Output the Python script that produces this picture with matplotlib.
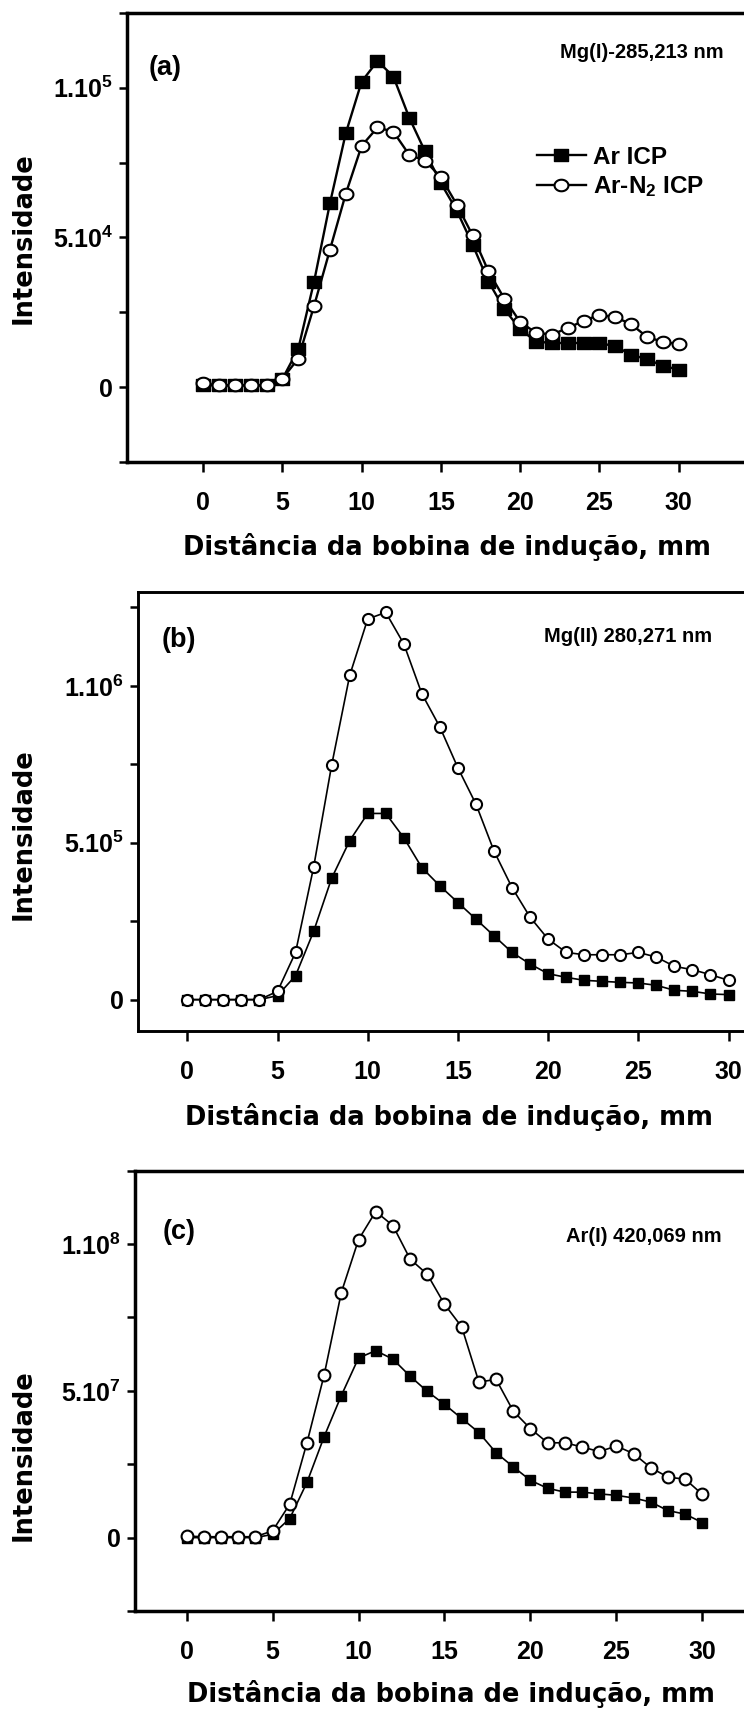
import numpy as np
import matplotlib
matplotlib.use('Agg')
import matplotlib.pyplot as plt
from matplotlib.path import Path
from matplotlib.ticker import MultipleLocator, FuncFormatter

# distance from the induction coil, mm
dist = np.arange(0, 31)

# (a) Mg(I) 285,213 nm
mg1_ar = [700, 700, 700, 700, 700, 2800, 12800, 35300, 61400, 84800, 102000,
          108900, 103700, 90000, 78700, 68100, 59000, 47600, 35300, 26100, 19400,
          15300, 14800, 14800, 14800, 14800, 13700, 10900, 9400, 7200, 5900]
mg1_arn2 = [1300, 700, 700, 700, 700, 2900, 9600, 27200, 45900, 64600, 80600,
            86700, 85300, 77600, 75600, 70100, 61000, 50700, 38700, 29600, 21800,
            18200, 17600, 19800, 22200, 24200, 23400, 21100, 16800, 15200, 14400]

# (b) Mg(II) 280,271 nm
mg2_ar = [0, 0, 0, 0, 0, 12700, 76300, 217200, 386700, 506500, 593300,
          593300, 516000, 420600, 362400, 309400, 256400, 203400, 150500, 113400, 82600,
          71000, 61500, 58300, 55100, 53000, 45600, 29700, 26500, 18000, 15900]
mg2_arn2 = [0, 0, 0, 0, 0, 26500, 150500, 421700, 747000, 1033000, 1213000,
            1234000, 1133700, 974800, 868800, 738500, 623000, 473600, 357000, 262800, 192800,
            150500, 143000, 143000, 143000, 150500, 135600, 106000, 95400, 79500, 61500]

# (c) Ar(I) 420,069 nm
ar1_ar = [0, 0, 0, 0, 0, 1.1e6, 6.5e6, 18.8e6, 34.4e6, 48.4e6, 61.2e6,
          63.7e6, 60.8e6, 55.0e6, 49.8e6, 45.4e6, 40.6e6, 35.8e6, 28.9e6, 24.1e6, 19.5e6,
          16.8e6, 15.5e6, 15.5e6, 14.9e6, 14.4e6, 13.5e6, 12.1e6, 9.2e6, 8.0e6, 5.1e6]
ar1_arn2 = [0.5e6, 0.3e6, 0.3e6, 0.3e6, 0.3e6, 2.3e6, 11.4e6, 32.3e6, 55.4e6, 83.5e6, 101.5e6,
            111.1e6, 106.3e6, 94.9e6, 89.7e6, 79.5e6, 71.8e6, 53.0e6, 53.9e6, 43.1e6, 37.1e6,
            32.3e6, 32.3e6, 30.9e6, 29.3e6, 31.2e6, 28.6e6, 23.8e6, 20.6e6, 19.9e6, 14.7e6]

series_labels = ['Ar ICP', 'Ar-N$_{2}$ ICP']
panel_tags = ['(a)', '(b)', '(c)']
lines_nm = ['Mg(I)-285,213 nm', 'Mg(II) 280,271 nm', 'Ar(I) 420,069 nm']
xlabel = 'Distância da bobina de indução, mm'
ylabel = 'Intensidade'

plt.rcParams['font.family'] = 'Liberation Sans'
plt.rcParams['font.weight'] = 'bold'
plt.rcParams['mathtext.fontset'] = 'custom'
plt.rcParams['mathtext.rm'] = 'Liberation Sans:bold'
plt.rcParams['mathtext.bf'] = 'Liberation Sans:bold'
plt.rcParams['mathtext.it'] = 'Liberation Sans:bold'
plt.rcParams['mathtext.default'] = 'rm'

ann_font = dict(family='Liberation Sans', size=14.5, weight='bold')
leg_font = dict(family='Liberation Sans', size=17.5, weight='bold')

W, H = 744, 1710
fig = plt.figure(figsize=(W / 100, H / 100), dpi=100)

def px_axes(left, top, right, bottom):
    return fig.add_axes([left / W, 1 - bottom / H, (right - left) / W, (bottom - top) / H])

def sci(v, pos):
    if abs(v) < 1e-9:
        return '0'
    e = int(np.floor(np.log10(v)))
    return r'$%d.10^{%d}$' % (round(v / 10 ** e), e)

# ellipse / flat square markers for panel (a)
t = np.linspace(0, 2 * np.pi, 60)
oval = Path(np.c_[1.2 * np.cos(t), np.sin(t)], closed=True)
flat_sq = Path([(-1.2, -1), (1.2, -1), (1.2, 1), (-1.2, 1), (-1.2, -1)], closed=True)

panels = [
    dict(box=(127, 12.7, 758, 462.3), xlim=(-4.8, 35), ylim=(-2.5e4, 1.25e5), step=2.5e4,
         ar=mg1_ar, arn2=mg1_arn2, lw=1.7, ms=(10, 10), mk=(flat_sq, oval), spw=2.5,
         tag=(165, 68), ann=(724, 52), ylab_y=238, xlab=(447, 547)),
    dict(box=(137.7, 591.7, 764.6, 1031), xlim=(-2.75, 32), ylim=(-1e5, 1.3e6), step=2.5e5,
         ar=mg2_ar, arn2=mg2_arn2, lw=1.2, ms=(7, 8), mk=('s', 'o'), spw=2.1,
         tag=(179, 640), ann=(712, 636), ylab_y=834, xlab=(449, 1117)),
    dict(box=(135, 1170.7, 754, 1611), xlim=(-3, 33), ylim=(-2.5e7, 1.25e8), step=2.5e7,
         ar=ar1_ar, arn2=ar1_arn2, lw=1.2, ms=(7.5, 8.5), mk=('s', 'o'), spw=2.5,
         tag=(179, 1232), ann=(722, 1237), ylab_y=1455, xlab=(451, 1694)),
]

for i, p in enumerate(panels):
    ax = px_axes(*p['box'])
    ax.plot(dist, p['ar'], color='black', lw=p['lw'], marker=p['mk'][0], ms=p['ms'][0],
            mfc='black', mec='black', mew=1.0, label=series_labels[0], zorder=3)
    ax.plot(dist, p['arn2'], color='black', lw=p['lw'], marker=p['mk'][1], ms=p['ms'][1],
            mfc='white', mec='black', mew=1.5, label=series_labels[1], zorder=4)
    ax.set_xlim(*p['xlim'])
    ax.set_ylim(*p['ylim'])
    ax.set_xticks(np.arange(0, 31, 5))
    ax.yaxis.set_minor_locator(MultipleLocator(p['step']))
    ax.set_yticks([0, p['step'] * 2, p['step'] * 4])
    ax.yaxis.set_major_formatter(FuncFormatter(sci))
    ax.tick_params(axis='x', direction='out', length=7, width=1.8, pad=14, labelsize=18)
    ax.tick_params(axis='y', which='both', direction='out', length=6, width=1.8, pad=4,
                   labelsize=18)
    for s in ax.spines.values():
        s.set_linewidth(p['spw'])
    for lab in ax.get_xticklabels() + ax.get_yticklabels():
        lab.set_fontweight('bold')

    fig.text(p['tag'][0] / W, 1 - p['tag'][1] / H, panel_tags[i], ha='center', va='center',
             fontsize=19.5, fontweight='bold')
    fig.text(p['ann'][0] / W, 1 - p['ann'][1] / H, lines_nm[i], ha='right', va='center',
             **ann_font)
    fig.text(24 / W, 1 - p['ylab_y'] / H, ylabel, rotation=90, ha='center', va='center',
             family='DejaVu Sans', fontweight='bold', fontsize=18.5)
    fig.text(p['xlab'][0] / W, 1 - p['xlab'][1] / H, xlabel, ha='center', va='center',
             family='DejaVu Sans', fontweight='bold', fontsize=18.5)

    if i == 0:
        ax.legend(loc='upper left', bbox_to_anchor=(537 / W, 1 - 146 / H),
                  bbox_transform=fig.transFigure, frameon=False, prop=leg_font,
                  handlelength=2.0, handletextpad=0.3, labelspacing=0.22,
                  borderpad=0, borderaxespad=0)

fig.savefig('out.png', dpi=100)
